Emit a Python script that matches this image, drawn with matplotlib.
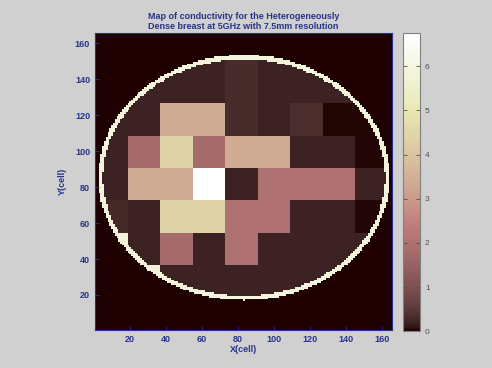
import matplotlib.pyplot as plt
import numpy as np

blocks = [
    [0.20, 0.20, 0.20, 0.20, 0.30, 0.20, 0.20, 0.20, 0.20],
    [0.20, 0.20, 0.20, 0.20, 0.30, 0.20, 0.20, 0.20, 0.20],
    [0.20, 0.20, 3.40, 3.40, 0.30, 0.20, 0.35, 0.05, 0.05],
    [0.20, 1.80, 4.40, 1.80, 3.40, 3.40, 0.20, 0.20, 0.05],
    [0.20, 3.40, 3.40, 6.75, 0.20, 2.00, 2.00, 2.00, 0.20],
    [0.28, 0.20, 4.40, 4.40, 2.00, 2.00, 0.20, 0.20, 0.05],
    [5.80, 0.20, 1.80, 0.20, 2.00, 0.20, 0.20, 0.20, 0.20],
    [0.20, 5.80, 0.20, 0.20, 0.20, 0.20, 0.20, 0.20, 0.20],
    [0.20, 0.20, 0.20, 0.20, 0.20, 0.20, 0.20, 0.20, 0.20],
]
skin = 5.9
n_cells = 165
block_size = 18
# breast outline (cells)
cx, cy = 83.0, 85.2
ax_r, ay_r = 80.6, 68.2
ring = 2.5

xticks = [20, 40, 60, 80, 100, 120, 140, 160]
yticks = [20, 40, 60, 80, 100, 120, 140, 160]
cticks = [0, 1, 2, 3, 4, 5, 6]

# build the cell map from the blocks and the outline
grid = np.array(blocks)[::-1]  # bottom row first
idx = np.minimum(np.arange(n_cells) // block_size, grid.shape[0] - 1)
cmap_vals = grid[np.ix_(idx, idx)]
cells = np.arange(1, n_cells + 1)
X, Y = np.meshgrid(cells, cells)
outer = ((X - cx) / ax_r) ** 2 + ((Y - cy) / ay_r) ** 2 <= 1
inner = ((X - cx) / (ax_r - ring)) ** 2 + ((Y - cy) / (ay_r - ring)) ** 2 <= 1
img = np.where(inner, cmap_vals, 0.0)
img[outer & ~inner] = skin

blue = '#27348b'
bg = '#d0d0d0'
plt.rcParams['font.family'] = ['Liberation Sans', 'DejaVu Sans']

fig = plt.figure(figsize=(4.92, 3.68), dpi=100, facecolor=bg)
ax = fig.add_axes([0.193, 0.103, 0.604, 0.807])
im = ax.imshow(img, cmap='pink', vmin=0, vmax=6.75, origin='lower',
               extent=(0.5, n_cells + 0.5, 0.5, n_cells + 0.5),
               interpolation='nearest', aspect='auto')
ax.set_xticks(xticks)
ax.set_yticks(yticks)
ax.tick_params(direction='in', length=3, colors=blue, labelsize=6.5, width=0.6)
for lab in ax.get_xticklabels() + ax.get_yticklabels():
    lab.set_fontweight('bold')
for s in ax.spines.values():
    s.set_color(blue)
    s.set_linewidth(0.8)
ax.set_xlabel('X(cell)', color=blue, fontsize=6.5, fontweight='bold', labelpad=1)
ax.set_ylabel('Y(cell)', color=blue, fontsize=6.5, fontweight='bold', labelpad=6)
ax.set_title('Map of conductivity for the Heterogeneously\nDense breast at 5GHz with 7.5mm resolution',
             color=blue, fontsize=6.5, fontweight='bold', pad=3, linespacing=1.15)

cax = fig.add_axes([0.819, 0.1, 0.035, 0.81])
cb = fig.colorbar(im, cax=cax, ticks=cticks)
cb.outline.set_edgecolor('#808080')
cb.outline.set_linewidth(0.8)
cax.tick_params(direction='in', length=3, colors='#505050', labelsize=6, width=0.6,
                left=True, right=True)

fig.savefig('out.png', dpi=100, facecolor=bg)
